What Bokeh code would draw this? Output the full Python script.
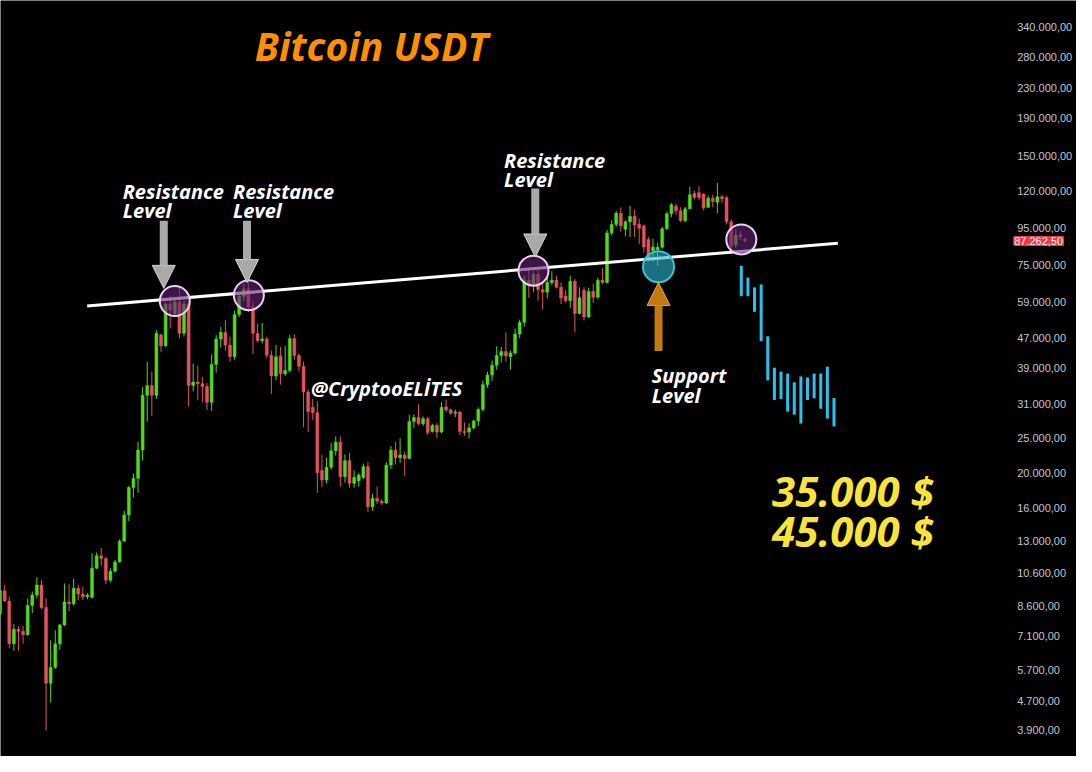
from bokeh.plotting import figure
from bokeh.models import Range1d, FixedTicker, Label, Arrow, NormalHead, ColumnDataSource
from bokeh.embed import file_html
from bokeh.resources import INLINE

# ---------------- data (biweekly BTC/USDT candles) -------------
opens = [8150, 9440, 8850, 6750, 7400, 7300, 7150, 8600, 9200, 9800,
         8500, 5250, 5800, 6750, 7600, 8800, 8700, 9600, 9250, 9100,
         9050, 10900, 11800, 11600, 10100, 10700, 11350, 12950, 15300, 18200,
         19300, 23100, 32700, 34800, 32700, 48000, 44800, 58400, 55000, 59200,
         48500, 58400, 34800, 35600, 35200, 34600, 31300, 39800, 46800, 48800,
         45000, 41800, 54700, 61300, 64300, 57300, 48500, 46300, 46800, 42200,
         37000, 42000, 37500, 38300, 46900, 42100, 39300, 33400, 30300, 29300,
         20300, 19100, 20700, 23000, 24300, 19500, 21600, 18700, 19000, 19400,
         20800, 16100, 17000, 16700, 16500, 21000, 23100, 22000, 22400, 21900,
         27700, 28400, 27300, 28200, 26000, 27000, 25900, 30400, 29800, 29200,
         29400, 26000, 25900, 26600, 27800, 29900, 35000, 37200, 39600, 42100,
         43200, 41800, 42800, 48300, 52000, 68000, 65900, 70500, 64000, 63000,
         67000, 68000, 65000, 61500, 59700, 67500, 55000, 63800, 53800, 63300,
         61000, 68000, 67000, 91800, 96800, 104000, 94000, 98600, 102000, 97000,
         96000, 88000, 82000, 82500, 83800, 94200, 103700, 108800, 105700, 99200,
         107000, 118000, 118500, 117500, 108000, 114500, 111500, 115500, 115000, 98500,
         85000, 90800, 88300]
highs = [9600, 9800, 9100, 7650, 7550, 7550, 9000, 9400, 10300, 10100,
         9000, 6900, 7350, 7650, 9900, 9850, 10200, 9800, 9700, 9300,
         12000, 12050, 12400, 11700, 10900, 11500, 13100, 15700, 18400, 19900,
         24300, 34500, 40500, 38000, 49500, 48500, 59000, 61500, 60500, 64800,
         59500, 59500, 40000, 39500, 36700, 35400, 42400, 48000, 50500, 52800,
         47500, 56000, 62500, 66500, 68000, 59500, 51500, 51800, 47500, 43500,
         45000, 44500, 44800, 48000, 48200, 42600, 40500, 34000, 32000, 31500,
         22400, 22000, 24200, 25200, 25200, 22500, 22700, 20300, 20000, 21200,
         21400, 17500, 18300, 16900, 21400, 23700, 24300, 24900, 22900, 28900,
         29000, 30900, 28600, 28500, 27300, 27400, 31300, 31800, 30100, 29900,
         29600, 27500, 27400, 28000, 30300, 35900, 38000, 40800, 44700, 44500,
         48800, 43500, 50000, 52900, 70000, 73500, 72000, 72700, 67200, 69500,
         72000, 70000, 67000, 63800, 70000, 68500, 65000, 65000, 64800, 66500,
         69000, 73500, 93500, 99500, 105500, 108000, 99500, 109000, 106500, 100500,
         96800, 89500, 88500, 86000, 95500, 105000, 111000, 110500, 108000, 108300,
         123000, 120000, 123500, 118000, 116500, 117000, 126000, 117000, 116000, 100000,
         94000, 93000, 89300]
lows = [8000, 8800, 6550, 6450, 6450, 6750, 7100, 8200, 9000, 8400,
        3880, 4650, 5750, 6500, 7550, 8300, 8600, 8900, 8900, 8950,
        9000, 10850, 11050, 9850, 9950, 10600, 11300, 12900, 14700, 17100,
        17600, 21600, 27700, 28700, 32000, 43000, 44500, 50000, 54000, 47000,
        47500, 30500, 33500, 31700, 31300, 29800, 29600, 37800, 44300, 43500,
        40500, 41000, 53800, 59500, 55500, 42500, 45800, 45500, 41500, 33000,
        36000, 35000, 37000, 37800, 41000, 38000, 26700, 25900, 28000, 17600,
        18300, 18700, 20400, 22300, 18300, 18800, 18200, 18200, 18300, 19200,
        15600, 15700, 16400, 16300, 16400, 20500, 21100, 21300, 19600, 21800,
        26600, 27000, 26900, 25400, 25800, 24900, 25700, 29400, 28900, 28500,
        25400, 25300, 24900, 26300, 26900, 29500, 34300, 35800, 38500, 40300,
        40500, 38500, 42300, 47000, 50600, 60800, 63000, 59600, 56500, 60500,
        66000, 64500, 58400, 59000, 57000, 48800, 54700, 52600, 53500, 58800,
        60500, 66200, 66500, 90500, 95500, 92500, 90000, 89500, 89500, 85500,
        81000, 76600, 76500, 74500, 83000, 93500, 101500, 103000, 98300, 98200,
        106500, 113500, 113000, 106000, 107500, 108000, 104000, 111000, 97000, 80500,
        83500, 87800, 86200]
closes = [9440, 8850, 6750, 7400, 7300, 7150, 8600, 9200, 9800, 8500,
          5250, 5800, 6750, 7600, 8800, 8700, 9600, 9250, 9100, 9200,
          10900, 11800, 11600, 10100, 10700, 11350, 12950, 15300, 18200, 19300,
          23100, 32700, 34800, 32700, 48500, 44800, 58400, 56200, 59200, 48500,
          58400, 34800, 35600, 35200, 34600, 31300, 39800, 46800, 48800, 45000,
          41800, 54700, 61300, 64300, 57300, 48500, 46300, 46800, 42200, 37000,
          41800, 37500, 38300, 46900, 42100, 39300, 33400, 29500, 29300, 20000,
          19100, 20700, 23000, 24300, 19500, 21600, 18700, 19400, 19700, 20800,
          16100, 17000, 16700, 16500, 21000, 23100, 22000, 22400, 21900, 27700,
          28400, 27300, 28200, 25800, 27000, 25900, 30300, 29800, 29200, 29400,
          26000, 25800, 26600, 27800, 29900, 35000, 37200, 39600, 42100, 43200,
          42000, 42800, 48300, 52000, 68000, 65900, 70500, 64000, 63000, 67000,
          68000, 65000, 60700, 59700, 67500, 55000, 60800, 53800, 63300, 61000,
          67900, 67000, 91800, 96800, 104000, 96000, 98600, 102000, 96500, 94500,
          84000, 78000, 84000, 83800, 94200, 103700, 109800, 105700, 99200, 107000,
          117000, 115000, 115000, 107500, 114500, 112000, 115500, 114000, 98500, 84500,
          90500, 89600, 87262.5]

# projected bar pattern (cyan), high / low of each bar
proj_high = [74500, 69130, 64950, 66170, 47600, 38990, 38030, 37560, 35520, 36870,
             36640, 37560, 37560, 39240, 32150]
proj_low = [61400, 61400, 55600, 46130, 35960, 31760, 31950, 29480, 28930, 27340,
            31760, 32100, 30030, 28220, 26840]

# price-axis tick values
y_ticks = [340000, 280000, 230000, 190000, 150000, 120000, 95000, 75000, 59000,
           47000, 39000, 31000, 25000, 20000, 16000, 13000, 10600, 8600, 7100,
           5700, 4700, 3900]

last_price = closes[-1]
targets = ["35.000 $", "45.000 $"]


def de_fmt(v):
    s = f"{v:,.2f}"
    return s.replace(",", "X").replace(".", ",").replace("X", ".")


# ---------------- figure ----------------
AXIS_X = 220.1   # index position of the price scale (right of the chart area)
p = figure(width=1076, height=756, output_backend="svg", toolbar_location=None,
           x_range=Range1d(0.09, 234.1), y_range=Range1d(3296, 402000),
           y_axis_type="log", y_axis_location="right", x_axis_location=None,
           background_fill_color="black", border_fill_color="black", min_border=0)
p.outline_line_color = None
p.xgrid.visible = False
p.ygrid.visible = False

ax = p.yaxis[0]
ax.fixed_location = AXIS_X
ax.ticker = FixedTicker(ticks=y_ticks)
ax.major_label_overrides = {v: de_fmt(v) for v in y_ticks}
ax.axis_line_color = None
ax.major_tick_line_color = None
ax.minor_tick_line_color = None
ax.major_tick_out = 0
ax.major_tick_in = 0
ax.minor_tick_out = 0
ax.major_label_text_color = "#c3c6ce"
ax.major_label_text_font = "Liberation Sans"
ax.major_label_text_font_size = "11px"
ax.major_label_standoff = 5

# ---------------- candles ----------------
GREEN = "#52d81c"
RED = "#e2535f"
n = len(opens)
src = ColumnDataSource(dict(
    x=list(range(n)),
    top=[max(o, c) for o, c in zip(opens, closes)],
    bottom=[min(o, c) for o, c in zip(opens, closes)],
    high=highs, low=lows,
    color=[GREEN if c >= o else RED for o, c in zip(opens, closes)],
))
p.segment(x0="x", y0="low", x1="x", y1="high", color="color", line_width=1, source=src)
p.vbar(x="x", width=0.64, top="top", bottom="bottom", fill_color="color",
       line_color="color", line_width=0.5, source=src)

# projected bars
proj_start, proj_step = 161.2, 1.44
px_ = [proj_start + k * proj_step for k in range(len(proj_high))]
p.segment(x0=px_, y0=proj_low, x1=px_, y1=proj_high, color="#27c3ec", line_width=3)

# trend line (resistance / support)
p.line([18.94, 182.2], [57710, 85960], line_color="white", line_width=3)

# highlighted circles
p.scatter([38.0, 54.1, 116.0, 161.2], [59550, 61800, 72220, 88100], marker="circle",
          size=30, fill_color="#662175", fill_alpha=0.6, line_color="#ead2ee", line_width=2)
p.scatter([143.2], [74040], marker="circle", size=31, fill_color="#2fb9cf",
          fill_alpha=0.6, line_color="#36c6d8", line_width=2)

# arrows
for xa, y0, y1 in [(35.6, 99170, 64550), (53.7, 99170, 67000), (116.4, 121800, 78770)]:
    p.add_layout(Arrow(end=NormalHead(size=23, fill_color="#a9a9a9", line_color="#d2d2d2",
                                      line_width=1),
                       x_start=xa, y_start=y0, x_end=xa, y_end=y1,
                       line_color="#a9a9a9", line_width=8))
p.add_layout(Arrow(end=NormalHead(size=23, fill_color="#c27913", line_color="#e3a04a",
                                  line_width=1),
                   x_start=143.2, y_start=43350, x_end=143.2, y_end=67000,
                   line_color="#c27913", line_width=8))

# texts
def lab(x, y, text, size, color="white", align="left"):
    p.add_layout(Label(x=x, y=y, text=text, text_font="Open Sans",
                       text_font_style="bold italic", text_font_size=size,
                       text_color=color, text_align=align, text_baseline="middle"))

lab(55.4, 302100, "Bitcoin USDT", "39px", color="#ff8f00")
for xr, y_top, y_bot in [(26.66, 119520, 105540), (50.65, 119520, 105540),
                         (109.6, 145900, 128800)]:
    lab(xr, y_top, "Resistance", "20px")
    lab(xr, y_bot, "Level", "20px")
lab(141.7, 37100, "Support", "20px")
lab(141.7, 32760, "Level", "20px")
lab(67.6, 34220, "@CryptooELİTES", "20px")
lab(167.9, 17910, targets[0], "42px", color="#f9e43a")
lab(167.9, 13880, targets[1], "42px", color="#f9e43a")

# last price tag on the price axis
p.add_layout(Label(x=AXIS_X, y=last_price, x_offset=2, text=de_fmt(last_price),
                   text_font="Liberation Sans", text_font_size="11px",
                   text_color="white", text_baseline="middle", text_align="left",
                   background_fill_color="#f23645", background_fill_alpha=1.0,
                   border_line_color="#f23645", border_line_width=2))

open("out.html", "w").write(file_html(p, INLINE))
